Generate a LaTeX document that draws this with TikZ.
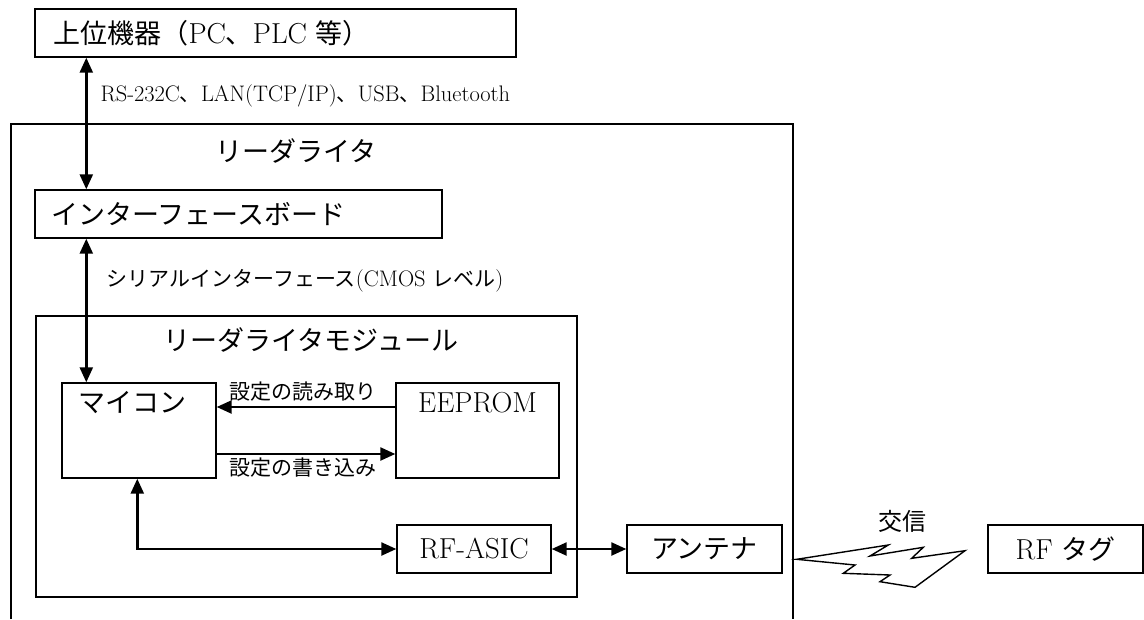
\documentclass[tikz,border=0pt]{standalone}
\usepackage{fontspec}
\setmainfont{Latin Modern Roman}[Scale=1.07]
\newfontfamily\jp{Noto Sans CJK JP}
\usetikzlibrary{arrows.meta, positioning}

\begin{document}
\begin{tikzpicture}[x=1pt, y=-1pt,
  box/.style={draw, line width=1.4pt, inner sep=0pt},
  arr/.style={line width=2.4pt, {Triangle[length=15pt,width=13pt]}-{Triangle[length=15pt,width=13pt]}},
  onearr/.style={line width=2.4pt, -{Triangle[length=15pt,width=13pt]}},
  bigfont/.style={font=\fontsize{27}{32}\selectfont, inner sep=0pt},
  smallfont/.style={font=\fontsize{21}{25}\selectfont, inner sep=0pt}]
\useasboundingbox (0,0) rectangle (1144,619);

\draw[line width=1.4pt] (11,619) -- (11,124) -- (793,124) -- (793,619);
\node[bigfont] (rwtitle) at (296,151) {\jp リーダライタ};

\node[box, minimum width=481pt, minimum height=48pt] (host) at (275.5,33) {};
\node[bigfont, right=19pt of host.west] (hosttext) {{\jp 上位機器（}PC{\jp 、}PLC {\jp 等）}};

\node[box, minimum width=407pt, minimum height=48pt] (iface) at (238.5,214) {};
\node[bigfont, right=17pt of iface.west] (ifacetext) {\jp インターフェースボード};

\draw[line width=1.4pt] (36,316) rectangle (577,597);
\node[bigfont] (modtitle) at (311,340) {\jp リーダライタモジュール};

\node[box, minimum width=154pt, minimum height=95pt] (mcu) at (139,430.5) {};
\node[bigfont, below right=9pt and 17pt of mcu.north west, anchor=north west] (mcutext) {\jp マイコン};

\node[box, minimum width=163pt, minimum height=95pt] (eeprom) at (477.5,430.5) {};
\node[bigfont, below=10pt of eeprom.north] (eepromtext) {EEPROM};

\node[box, bigfont, minimum width=154pt, minimum height=48pt] (rfasic) at (474,549) {RF-ASIC};
\node[box, bigfont, minimum width=155pt, minimum height=48pt] (antenna) at (704.5,549) {\jp アンテナ};
\node[box, bigfont, minimum width=155pt, minimum height=48pt] (rftag) at (1065.5,549) {RF {\jp タグ}};

\draw[arr] ([xshift=52pt]host.south west) -- node[pos=0.29, smallfont, anchor=west, xshift=13pt] (rslabel) {RS-232C{\jp 、}LAN(TCP/IP){\jp 、}USB{\jp 、}Bluetooth} ([xshift=52pt]iface.north west);
\draw[arr] ([xshift=52pt]iface.south west) -- node[pos=0.29, smallfont, anchor=west, xshift=19pt] (seriallabel) {{\jp シリアルインターフェース}(CMOS {\jp レベル})} ([xshift=25pt]mcu.north west);

\draw[onearr] ([yshift=23.5pt]eeprom.west) -- node[at end, smallfont, anchor=west, xshift=12pt, yshift=15pt] (readlabel) {\jp 設定の読み取り} ([yshift=23.5pt]mcu.east);
\draw[onearr] ([yshift=-23.5pt]mcu.east) -- node[at start, smallfont, anchor=west, xshift=12pt, yshift=-14pt] (writelabel) {\jp 設定の書き込み} ([yshift=-23.5pt]eeprom.west);

\draw[arr] ([xshift=76pt]mcu.south west) |- (rfasic.west);
\draw[arr] (rfasic.east) -- (antenna.west);

\draw[line width=1.4pt, fill=white] (796.7,559.3) -- (888.3,545) -- (870,556) -- (923.3,547.3) -- (911.7,558.3) -- (965,550.7)
  -- (915,587.3) -- (880,581.7) -- (890,575) -- (843.3,573.3) -- (855,565) -- cycle;
\node[font=\fontsize{24}{28}\selectfont, inner sep=0pt] (kousin) at (902,521) {\jp 交信};
\end{tikzpicture}
\end{document}
